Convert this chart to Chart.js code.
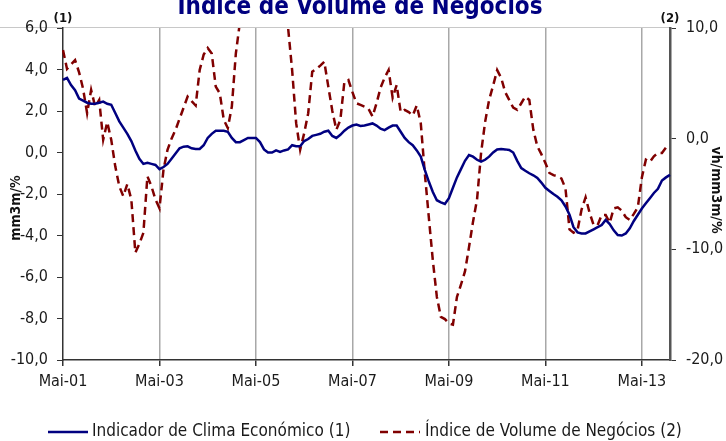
<!DOCTYPE html>
<html>
<head>
<meta charset="utf-8">
<script src="https://cdn.jsdelivr.net/npm/chart.js@4.4.1/dist/chart.umd.min.js"></script>
<style>
  html, body { margin: 0; padding: 0; background: #fff; }
</style>
</head>
<body>
<canvas id="chart" width="726" height="441"></canvas>
<script>
// monthly series, Mai-01 .. Dez-13
var monthNames = ['Jan', 'Fev', 'Mar', 'Abr', 'Mai', 'Jun', 'Jul', 'Ago', 'Set', 'Out', 'Nov', 'Dez'];
var startYear = 2001, startMonth = 4, nMonths = 152;

// Indicador de Clima Económico (1), mm3m/%
var clima = [
  3.5, 3.6, 3.25, 3.0, 2.6, 2.5, 2.4, 2.35, 2.35, 2.4, 2.45, 2.35,
  2.3, 1.9, 1.5, 1.2, 0.9, 0.55, 0.1, -0.3, -0.55, -0.5, -0.55, -0.6,
  -0.8, -0.7, -0.55, -0.3, -0.05, 0.2, 0.28, 0.3, 0.2, 0.17, 0.17, 0.35,
  0.7, 0.9, 1.05, 1.05, 1.05, 1.0, 0.7, 0.5, 0.5, 0.6, 0.7, 0.7,
  0.7, 0.5, 0.15, 0.0, 0.0, 0.1, 0.03, 0.1, 0.15, 0.35, 0.3, 0.3,
  0.55, 0.65, 0.8, 0.85, 0.9, 1.0, 1.05, 0.8, 0.7, 0.85, 1.05, 1.2,
  1.3, 1.35, 1.28, 1.3, 1.35, 1.4, 1.3, 1.15, 1.08, 1.2, 1.3, 1.3,
  1.0, 0.7, 0.5, 0.35, 0.1, -0.2, -0.84, -1.4, -1.9, -2.3, -2.4, -2.48,
  -2.2, -1.7, -1.2, -0.8, -0.4, -0.12, -0.2, -0.35, -0.44, -0.35, -0.2, 0.0,
  0.15, 0.17, 0.15, 0.12, 0.0, -0.4, -0.75, -0.88, -1.0, -1.1, -1.23, -1.45,
  -1.7, -1.85, -2.0, -2.13, -2.3, -2.6, -3.0, -3.6, -3.85, -3.9, -3.9, -3.8,
  -3.7, -3.6, -3.5, -3.25, -3.45, -3.75, -3.98, -4.0, -3.9, -3.65, -3.3, -3.0,
  -2.7, -2.45, -2.2, -1.95, -1.75, -1.35, -1.2, -1.08
];

// Índice de Volume de Negócios (2), vh/mm3m/%
var volume = [
  8.0, 6.3, 6.7, 7.1, 6.0, 4.5, 2.3, 4.4, 2.9, 3.5, -0.1, 1.5,
  -0.1, -2.5, -4.3, -5.2, -4.1, -5.5, -10.3, -9.5, -8.5, -3.4, -4.3, -5.5,
  -6.3, -2.8, -1.0, 0.0, 0.8, 1.8, 2.8, 3.8, 3.4, 3.0, 6.2, 7.6,
  8.2, 7.7, 4.7, 4.1, 1.7, 0.95, 2.9, 7.7, 10.5, 12.5, 14.0, 14.5,
  15.0, 15.0, 14.5, 14.0, 13.5, 13.0, 12.0, 11.0, 10.0, 6.2, 1.4, -1.0,
  0.5, 2.3, 6.05, 6.3, 6.6, 6.95, 4.7, 2.5, 0.8, 1.7, 5.15, 5.3,
  4.2, 3.2, 3.05, 2.9, 2.7, 2.0, 3.2, 4.6, 5.5, 6.2, 3.7, 4.85,
  2.4, 2.6, 2.4, 2.1, 3.0, 1.4, -3.1, -7.1, -11.0, -14.3, -16.1, -16.3,
  -16.7, -16.8, -14.3, -13.2, -12.0, -9.8, -7.5, -5.5, -1.3, 1.5, 3.5, 4.8,
  6.2, 5.5, 4.2, 3.5, 2.8, 2.6, 3.2, 3.8, 3.5, 0.8, -0.7, -1.4,
  -2.2, -3.1, -3.3, -3.4, -3.6, -4.5, -8.2, -8.5, -8.25, -6.4, -5.3, -6.7,
  -7.8, -7.8, -6.9, -6.9, -7.6, -6.3, -6.2, -6.5, -7.1, -7.35, -6.8, -6.2,
  -3.5, -1.9, -2.1, -1.6, -1.3, -1.3, -0.8, -0.9
];

var leftTicks = { min: -10, max: 6, step: 2 };
var rightTicks = { min: -20, max: 10, step: 10 };
var labelEvery = 24;

var labels = [];
for (var i = 0; i < nMonths; i++) {
  var m = startMonth + i;
  var yy = (startYear + Math.floor(m / 12)) % 100;
  labels.push(monthNames[m % 12] + '-' + (yy < 10 ? '0' : '') + yy);
}

var FONT = "'DejaVu Sans Condensed', 'DejaVu Sans', sans-serif";
function fmt(v) { return v.toFixed(1).replace('.', ','); }

var decor = {
  id: 'decor',
  beforeDraw: function(chart) {
    var c = chart.ctx;
    c.save();
    c.fillStyle = '#fff';
    c.fillRect(0, 0, chart.width, chart.height);
    c.strokeStyle = '#c8c8c8';
    c.lineWidth = 1;
    c.beginPath();
    c.moveTo(0, 27.5);
    c.lineTo(chart.chartArea.right, 27.5);
    c.stroke();
    c.restore();
  },
  afterDraw: function(chart) {
    var c = chart.ctx;
    c.save();
    // title (top cut off)
    c.fillStyle = '#000080';
    c.font = 'bold 24px ' + FONT;
    c.textAlign = 'center';
    c.textBaseline = 'alphabetic';
    c.fillText('Índice de Volume de Negócios', 360, 14);

    c.fillStyle = '#111';
    c.font = 'bold 13px ' + FONT;
    c.fillText('(1)', 63, 22);
    c.fillText('(2)', 670, 22);

    // axis titles
    c.font = 'bold 14px ' + FONT;
    c.textBaseline = 'middle';
    c.save();
    c.translate(16, 208);
    c.rotate(-Math.PI / 2);
    c.fillText('mm3m/%', 0, 0);
    c.restore();
    c.save();
    c.translate(716, 190);
    c.rotate(Math.PI / 2);
    c.fillText('vh/mm3m/%', 0, 0);
    c.restore();

    // legend
    var ly = 432;
    c.font = '17px ' + FONT;
    c.textAlign = 'left';
    c.fillStyle = '#1a1a1a';
    var ds = chart.data.datasets;
    var items = [[48, 92], [380, 425]];
    for (var k = 0; k < ds.length; k++) {
      c.strokeStyle = ds[k].borderColor;
      c.lineWidth = ds[k].borderWidth;
      c.setLineDash(ds[k].borderDash || []);
      c.beginPath();
      c.moveTo(items[k][0], ly);
      c.lineTo(items[k][0] + 40, ly);
      c.stroke();
      c.setLineDash([]);
      c.fillText(ds[k].label, items[k][1], ly);
    }
    c.restore();
  }
};

var ctx = document.getElementById('chart').getContext('2d');
var chart = new Chart(ctx, {
  type: 'line',
  data: {
    labels: labels,
    datasets: [{
      label: 'Indicador de Clima Económico (1)',
      data: clima,
      yAxisID: 'y',
      borderColor: '#000080',
      borderWidth: 2.5,
      pointRadius: 0,
      tension: 0
    }, {
      label: 'Índice de Volume de Negócios (2)',
      data: volume,
      yAxisID: 'y2',
      borderColor: '#800000',
      borderWidth: 2.5,
      borderDash: [8, 5],
      pointRadius: 0,
      tension: 0
    }]
  },
  options: {
    responsive: false,
    animation: false,
    layout: { padding: { top: 28, left: 0, right: 0, bottom: 0 } },
    plugins: {
      legend: { display: false },
      title: { display: false },
      tooltip: { enabled: false }
    },
    scales: {
      x: {
        type: 'category',
        afterFit: function(s) { s.height = 81; },
        border: { color: '#333', width: 1.5 },
        grid: {
          drawOnChartArea: true,
          tickLength: 6,
          lineWidth: 1.5,
          color: function(c) { return (c.index % labelEvery === 0 && c.index > 0) ? '#a8a8a8' : 'rgba(0,0,0,0)'; },
          tickColor: function(c) { return c.index % labelEvery === 0 ? '#333' : 'rgba(0,0,0,0)'; }
        },
        ticks: {
          autoSkip: false,
          maxRotation: 0,
          padding: 6,
          color: '#1a1a1a',
          font: { family: FONT, size: 16 },
          callback: function(v, idx) { return idx % labelEvery === 0 ? this.getLabelForValue(v) : ''; }
        }
      },
      y: {
        position: 'left',
        min: leftTicks.min,
        max: leftTicks.max,
        afterFit: function(s) { s.width = 63; },
        border: { color: '#333', width: 1.5 },
        grid: { drawOnChartArea: false, tickLength: 6, tickColor: '#333' },
        ticks: {
          stepSize: leftTicks.step,
          padding: 9,
          color: '#1a1a1a',
          font: { family: FONT, size: 16 },
          callback: function(v) { return fmt(v); }
        }
      },
      y2: {
        position: 'right',
        min: rightTicks.min,
        max: rightTicks.max,
        afterFit: function(s) { s.width = 56; },
        border: { color: '#555', width: 2.5 },
        grid: { drawOnChartArea: false, tickLength: 6, tickColor: '#333' },
        ticks: {
          stepSize: rightTicks.step,
          padding: 10,
          color: '#1a1a1a',
          font: { family: FONT, size: 16 },
          callback: function(v) { return fmt(v); }
        }
      }
    }
  },
  plugins: [decor]
});
</script>
</body>
</html>
